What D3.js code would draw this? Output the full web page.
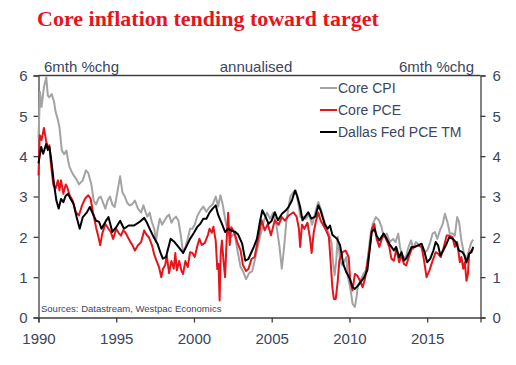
<!DOCTYPE html>
<html>
<head>
<meta charset="utf-8">
<script src="https://cdn.jsdelivr.net/npm/d3@7"></script>
<style>
  html, body { margin: 0; padding: 0; background: #fff; }
  svg { display: block; }
</style>
</head>
<body>
<svg id="chart" width="516" height="365"></svg>
<script>
// ---------- DATA ----------
const seriesNames = ["Core CPI", "Core PCE", "Dallas Fed PCE TM"];
const xTicks = [1990, 1995, 2000, 2005, 2010, 2015];
const yTicks = [0, 1, 2, 3, 4, 5, 6];

// [decimal year, % annualised 6mth change]
const coreCPI = [
[1990.0,4.47],[1990.1,5.59],[1990.2,5.22],[1990.35,5.71],[1990.5,5.96],[1990.6,5.5],[1990.7,5.46],[1990.85,5.54],
[1991.0,5.35],[1991.1,5.1],[1991.25,4.9],[1991.35,4.71],[1991.5,4.14],[1991.65,4.05],[1991.8,4.14],[1991.9,3.9],
[1992.0,3.73],[1992.2,3.56],[1992.45,3.42],[1992.6,3.3],[1992.85,3.4],[1993.05,3.65],[1993.2,3.58],[1993.4,3.3],
[1993.55,2.9],[1993.7,2.8],[1993.85,2.95],[1994.0,3.0],[1994.15,2.85],[1994.3,2.7],[1994.45,2.9],[1994.6,3.0],
[1994.75,2.8],[1994.9,2.74],[1995.05,3.06],[1995.25,3.5],[1995.4,3.1],[1995.55,3.0],[1995.7,2.85],[1995.85,2.78],
[1996.0,2.8],[1996.2,2.9],[1996.4,2.7],[1996.6,2.6],[1996.75,2.78],[1996.9,2.6],[1997.0,2.5],[1997.15,2.6],
[1997.3,2.35],[1997.45,2.2],[1997.55,1.87],[1997.65,2.15],[1997.8,2.45],[1997.95,2.3],[1998.1,2.4],[1998.25,2.5],
[1998.4,2.55],[1998.55,2.35],[1998.7,2.45],[1998.85,2.5],[1999.0,2.4],[1999.15,2.05],[1999.3,1.6],[1999.45,1.75],
[1999.6,1.95],[1999.75,2.2],[1999.9,2.2],[2000.05,2.3],[2000.2,2.5],[2000.4,2.65],[2000.6,2.75],[2000.8,2.62],
[2001.0,2.74],[2001.2,2.8],[2001.4,3.0],[2001.55,2.75],[2001.7,3.03],[2001.85,2.8],[2002.0,2.45],[2002.2,2.1],
[2002.4,2.0],[2002.6,2.1],[2002.8,1.66],[2003.0,1.25],[2003.15,1.15],[2003.35,0.95],[2003.55,1.1],[2003.75,1.15],
[2003.9,1.4],[2004.1,1.75],[2004.3,2.08],[2004.5,2.4],[2004.7,2.6],[2004.9,2.45],[2005.1,2.6],[2005.3,2.3],
[2005.5,1.75],[2005.65,1.21],[2005.8,1.75],[2005.95,2.4],[2006.2,3.0],[2006.4,3.11],[2006.55,3.15],[2006.7,2.85],
[2006.85,2.49],[2007.0,2.5],[2007.2,2.45],[2007.4,2.55],[2007.6,2.3],[2007.8,2.6],[2008.0,2.86],[2008.15,2.7],
[2008.3,2.5],[2008.5,2.25],[2008.7,2.05],[2008.85,1.85],[2008.95,1.35],[2009.05,1.05],[2009.15,1.4],[2009.25,2.0],
[2009.4,1.4],[2009.55,1.29],[2009.7,1.41],[2009.8,1.5],[2009.9,1.0],[2010.05,0.75],[2010.2,0.34],[2010.35,0.26],
[2010.45,0.5],[2010.55,0.79],[2010.7,0.91],[2010.9,1.08],[2011.06,1.17],[2011.2,1.54],[2011.35,2.03],[2011.5,2.32],
[2011.7,2.49],[2011.9,2.41],[2012.07,2.24],[2012.2,1.99],[2012.4,2.08],[2012.6,1.87],[2012.8,1.95],[2012.97,1.87],
[2013.14,2.08],[2013.25,1.75],[2013.4,1.54],[2013.6,1.46],[2013.8,1.75],[2013.97,1.91],[2014.1,1.7],[2014.27,1.87],
[2014.4,1.83],[2014.6,1.75],[2014.85,1.62],[2015.0,1.66],[2015.2,1.87],[2015.35,2.08],[2015.5,2.12],[2015.65,1.95],
[2015.82,2.16],[2016.0,2.32],[2016.14,2.57],[2016.3,2.37],[2016.46,2.08],[2016.63,2.08],[2016.78,2.03],[2016.93,2.49],
[2017.05,2.37],[2017.2,1.91],[2017.35,1.62],[2017.5,1.33],[2017.6,1.54],[2017.75,1.75],[2017.85,1.87],[2017.96,1.93]
];

const corePCE = [
[1990.0,3.52],[1990.08,4.52],[1990.2,4.4],[1990.35,4.7],[1990.5,4.35],[1990.6,4.23],[1990.7,4.27],[1990.8,3.8],
[1990.95,3.3],[1991.1,3.2],[1991.25,3.4],[1991.35,3.15],[1991.45,3.4],[1991.6,3.07],[1991.75,3.3],[1991.85,3.23],
[1992.0,3.03],[1992.2,2.9],[1992.4,2.61],[1992.6,2.53],[1992.8,2.78],[1993.0,2.95],[1993.2,3.03],[1993.35,2.95],
[1993.5,2.61],[1993.7,2.24],[1993.85,2.0],[1993.97,1.79],[1994.1,2.08],[1994.3,2.32],[1994.5,2.2],[1994.65,2.12],
[1994.8,1.95],[1995.0,2.2],[1995.15,2.1],[1995.3,2.03],[1995.45,2.16],[1995.6,2.1],[1995.8,1.95],[1995.95,1.85],
[1996.05,1.79],[1996.2,1.66],[1996.4,1.79],[1996.6,1.87],[1996.8,2.16],[1996.95,2.05],[1997.1,1.99],[1997.3,1.79],
[1997.45,1.55],[1997.6,1.4],[1997.75,1.25],[1997.9,1.0],[1998.0,1.2],[1998.15,1.3],[1998.25,1.54],[1998.4,1.1],
[1998.55,1.4],[1998.7,1.21],[1998.8,1.6],[1998.9,1.17],[1999.05,1.4],[1999.2,1.15],[1999.3,1.08],[1999.45,1.4],
[1999.6,1.25],[1999.75,1.62],[1999.9,1.6],[2000.05,1.5],[2000.2,1.75],[2000.35,1.95],[2000.5,1.8],[2000.7,1.85],
[2000.9,2.05],[2001.0,2.2],[2001.15,2.1],[2001.25,2.25],[2001.4,1.9],[2001.5,1.2],[2001.58,1.33],[2001.65,0.42],
[2001.72,1.6],[2001.8,1.91],[2001.9,1.4],[2002.0,1.0],[2002.1,1.9],[2002.2,2.6],[2002.3,1.8],[2002.4,2.24],
[2002.6,2.1],[2002.8,1.85],[2003.0,1.66],[2003.15,1.3],[2003.35,1.15],[2003.5,1.2],[2003.7,1.45],[2003.9,1.5],
[2004.15,2.0],[2004.35,2.41],[2004.55,2.16],[2004.75,2.32],[2004.95,2.04],[2005.2,2.41],[2005.45,2.3],[2005.65,2.49],
[2005.85,2.4],[2006.1,2.53],[2006.4,2.61],[2006.6,2.5],[2006.75,2.2],[2006.83,1.75],[2006.95,2.3],[2007.1,2.2],
[2007.3,2.35],[2007.45,2.0],[2007.57,1.6],[2007.7,2.1],[2007.85,2.4],[2008.0,2.6],[2008.15,2.4],[2008.3,2.3],
[2008.5,2.16],[2008.68,1.99],[2008.8,1.33],[2008.9,0.75],[2009.0,0.46],[2009.12,0.46],[2009.25,0.91],[2009.35,1.41],
[2009.55,1.62],[2009.75,1.66],[2009.95,1.5],[2010.05,0.91],[2010.2,0.67],[2010.35,1.08],[2010.5,1.04],[2010.68,0.91],
[2010.85,0.75],[2011.0,0.96],[2011.15,1.33],[2011.32,1.79],[2011.45,2.2],[2011.6,2.32],[2011.75,1.95],[2011.92,1.75],
[2012.05,1.91],[2012.2,2.08],[2012.4,1.91],[2012.56,1.75],[2012.7,1.46],[2012.86,1.41],[2013.02,1.7],[2013.2,1.37],
[2013.35,1.54],[2013.5,1.33],[2013.65,1.29],[2013.85,1.54],[2014.0,1.7],[2014.2,1.75],[2014.4,1.79],[2014.64,1.75],
[2014.8,1.41],[2014.96,1.0],[2015.15,1.17],[2015.35,1.41],[2015.55,1.62],[2015.7,1.58],[2015.88,1.5],[2016.07,1.75],
[2016.25,2.03],[2016.42,2.03],[2016.63,1.99],[2016.78,1.75],[2016.93,1.87],[2017.1,1.37],[2017.2,1.5],[2017.32,1.21],
[2017.42,1.37],[2017.53,0.91],[2017.62,1.08],[2017.7,1.58],[2017.85,1.66],[2017.96,1.7]
];

const dallasPCE = [
[1990.0,3.82],[1990.17,4.23],[1990.3,4.06],[1990.5,4.31],[1990.6,4.15],[1990.7,4.23],[1990.8,3.97],[1990.9,3.64],
[1991.0,3.3],[1991.15,2.9],[1991.3,2.7],[1991.45,2.94],[1991.6,2.86],[1991.75,3.02],[1991.9,3.07],[1992.05,2.95],
[1992.25,2.82],[1992.45,2.49],[1992.65,2.2],[1992.85,2.49],[1993.1,2.6],[1993.3,2.74],[1993.5,2.57],[1993.7,2.4],
[1993.9,2.37],[1994.05,2.2],[1994.3,2.37],[1994.5,2.49],[1994.75,2.12],[1995.0,2.24],[1995.25,2.4],[1995.5,2.2],
[1995.8,2.28],[1996.15,2.28],[1996.5,2.37],[1996.8,2.47],[1996.95,2.37],[1997.2,2.16],[1997.4,2.0],[1997.65,1.83],
[1997.85,1.6],[1998.0,1.46],[1998.2,1.5],[1998.5,1.95],[1998.75,1.87],[1999.0,1.75],[1999.3,1.6],[1999.5,1.75],
[1999.75,1.95],[2000.0,2.1],[2000.2,2.24],[2000.4,2.32],[2000.6,2.45],[2000.8,2.45],[2001.0,2.6],[2001.2,2.7],
[2001.4,2.78],[2001.55,2.55],[2001.8,2.32],[2002.0,2.12],[2002.2,2.2],[2002.45,2.15],[2002.66,2.12],[2002.85,2.05],
[2003.1,1.83],[2003.3,1.41],[2003.5,1.45],[2003.65,1.58],[2003.85,1.75],[2004.05,1.95],[2004.26,2.41],[2004.4,2.66],
[2004.6,2.5],[2004.8,2.32],[2005.0,2.4],[2005.2,2.61],[2005.4,2.41],[2005.66,2.57],[2005.9,2.65],[2006.08,2.74],
[2006.3,2.9],[2006.5,3.15],[2006.65,3.0],[2006.83,2.74],[2006.98,2.41],[2007.15,2.5],[2007.35,2.61],[2007.55,2.45],
[2007.8,2.5],[2008.0,2.78],[2008.15,2.65],[2008.4,2.32],[2008.6,2.2],[2008.75,2.28],[2008.9,2.05],[2009.2,1.95],
[2009.4,1.79],[2009.6,1.33],[2009.8,1.12],[2010.03,0.96],[2010.2,0.75],[2010.35,0.71],[2010.55,0.79],[2010.78,0.91],
[2010.95,1.0],[2011.15,1.17],[2011.3,1.66],[2011.43,2.12],[2011.6,2.2],[2011.75,2.03],[2011.92,1.91],[2012.05,1.99],
[2012.2,2.08],[2012.4,1.95],[2012.56,1.83],[2012.7,1.75],[2012.86,1.66],[2013.0,1.75],[2013.2,1.5],[2013.35,1.62],
[2013.5,1.41],[2013.65,1.46],[2013.85,1.62],[2014.0,1.75],[2014.2,1.75],[2014.42,1.79],[2014.64,1.83],[2014.8,1.66],
[2015.0,1.37],[2015.2,1.46],[2015.4,1.66],[2015.55,1.87],[2015.7,1.79],[2015.85,1.54],[2016.03,1.66],[2016.25,1.83],
[2016.42,1.99],[2016.65,1.95],[2016.85,1.87],[2017.05,1.66],[2017.27,1.62],[2017.4,1.54],[2017.53,1.37],[2017.7,1.58],
[2017.85,1.62],[2017.96,1.75]
];

// ---------- CHART ----------
const svg = d3.select("#chart");
const plotL = 38.5, plotR = 480.5, plotT = 75.5, plotB = 317.5;
const textCol = "#3a4562";
const axisCol = "#404040";

const x = d3.scaleLinear().domain([1990, 2018.43]).range([plotL, plotR]);
const y = d3.scaleLinear().domain([0, 6]).range([plotB, plotT]);

// Title
svg.append("text")
  .attr("x", 37).attr("y", 26)
  .attr("font-family", "'Liberation Serif', 'Times New Roman', serif")
  .attr("font-weight", "bold").attr("font-size", 22)
  .attr("fill", "#e8141b")
  .text("Core inflation tending toward target");

// Axes
const fontAx = "'Liberation Sans', Arial, sans-serif";
const gL = svg.append("g").attr("transform", `translate(${plotL},0)`)
  .call(d3.axisLeft(y).tickValues(yTicks).tickFormat(d3.format("d")).tickSizeOuter(0).tickSize(5).tickPadding(6));
const gR = svg.append("g").attr("transform", `translate(${plotR},0)`)
  .call(d3.axisRight(y).tickValues(yTicks).tickFormat(d3.format("d")).tickSizeOuter(0).tickSize(5).tickPadding(7));
const gB = svg.append("g").attr("transform", `translate(0,${plotB})`)
  .call(d3.axisBottom(x).tickValues(xTicks).tickFormat(d3.format("d")).tickSizeOuter(0).tickSize(5).tickPadding(7));
[gL, gR, gB].forEach(g => {
  g.select(".domain").attr("stroke", axisCol).attr("stroke-width", 1.3);
  g.selectAll(".tick line").attr("stroke", axisCol).attr("stroke-width", 1.3);
  g.selectAll(".tick text").attr("fill", textCol).attr("font-family", fontAx).attr("font-size", 15);
});
gL.selectAll(".tick text").attr("dy", "0.36em");
gR.selectAll(".tick text").attr("dy", "0.36em");
gB.selectAll(".tick text").attr("dy", "0.95em");

// top border
svg.append("line")
  .attr("x1", plotL).attr("x2", plotR).attr("y1", plotT).attr("y2", plotT)
  .attr("stroke", axisCol).attr("stroke-width", 1.3);

// header labels
const hdr = [
  {t: "6mth %chg", x: 44, anchor: "start"},
  {t: "annualised", x: 256, anchor: "middle"},
  {t: "6mth %chg", x: 474, anchor: "end"}
];
svg.selectAll("text.hdr").data(hdr).enter().append("text")
  .attr("class", "hdr")
  .attr("x", d => d.x).attr("y", 71.5)
  .attr("text-anchor", d => d.anchor)
  .attr("font-family", fontAx).attr("font-size", 15)
  .attr("fill", textCol).text(d => d.t);

// lines
const line = d3.line().x(d => x(d[0])).y(d => y(d[1]));
const series = [
  {name: seriesNames[0], data: coreCPI, color: "#a3a3a3"},
  {name: seriesNames[1], data: corePCE, color: "#e8141b"},
  {name: seriesNames[2], data: dallasPCE, color: "#000000"}
];
svg.append("g").selectAll("path").data(series).enter().append("path")
  .attr("d", d => line(d.data))
  .attr("fill", "none")
  .attr("stroke", d => d.color)
  .attr("stroke-width", 2)
  .attr("stroke-linejoin", "round");

// legend
const lg = svg.append("g").selectAll("g").data(series).enter().append("g")
  .attr("transform", (d, i) => `translate(320,${88 + i * 22})`);
lg.append("line").attr("x1", 0).attr("x2", 17).attr("y1", 0).attr("y2", 0)
  .attr("stroke", d => d.color).attr("stroke-width", 2);
lg.append("text").attr("x", 18).attr("y", 5)
  .attr("font-family", fontAx).attr("font-size", 14)
  .attr("fill", textCol).text(d => d.name);

// sources
svg.append("text")
  .attr("x", 41).attr("y", 312)
  .attr("font-family", fontAx).attr("font-size", 9.5)
  .attr("fill", textCol)
  .text("Sources: Datastream, Westpac Economics");
</script>
</body>
</html>
